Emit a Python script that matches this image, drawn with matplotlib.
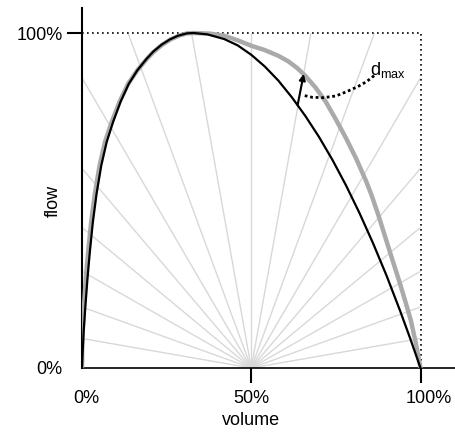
import numpy as np
import matplotlib
matplotlib.use("Agg")
import matplotlib.pyplot as plt
import matplotlib.transforms as mtransforms

plt.rcParams['font.family'] = ['Liberation Sans', 'DejaVu Sans']
plt.rcParams['mathtext.fontset'] = 'custom'
plt.rcParams['mathtext.rm'] = 'Liberation Sans'
plt.rcParams['mathtext.it'] = 'Liberation Sans'

# ---- data ----
# normal (predicted) flow-volume curve
normal_x = [0, 0.002, 0.005, 0.010, 0.016, 0.023, 0.032, 0.043, 0.057, 0.073, 0.092,
            0.114, 0.138, 0.163, 0.190, 0.210, 0.235, 0.260, 0.284, 0.310, 0.330,
            0.370, 0.420, 0.460, 0.500, 0.540, 0.580, 0.620, 0.660, 0.700, 0.740,
            0.780, 0.820, 0.860, 0.900, 0.940, 0.970, 1.000]
normal_y = [0, 0.050, 0.110, 0.185, 0.265, 0.345, 0.435, 0.520, 0.605, 0.675, 0.735,
            0.795, 0.848, 0.888, 0.922, 0.944, 0.965, 0.981, 0.992, 0.999, 1.000,
            0.996, 0.982, 0.963, 0.935, 0.900, 0.858, 0.808, 0.752, 0.690, 0.621,
            0.545, 0.462, 0.372, 0.275, 0.170, 0.087, 0]

# measured flow-volume curve
meas_x = [0, 0.0005, 0.002, 0.006, 0.011, 0.018, 0.027, 0.038, 0.052, 0.068, 0.088,
          0.111, 0.136, 0.163, 0.191, 0.212, 0.237, 0.262, 0.286, 0.311, 0.330,
          0.380, 0.420, 0.460, 0.500, 0.540, 0.580, 0.610, 0.635, 0.660, 0.690,
          0.720, 0.750, 0.780, 0.810, 0.840, 0.855, 0.875, 0.894, 0.917, 0.940,
          0.956, 0.972, 0.986, 1.000]
meas_y = [0, 0.050, 0.110, 0.185, 0.265, 0.345, 0.435, 0.520, 0.605, 0.675, 0.735,
          0.795, 0.848, 0.888, 0.922, 0.944, 0.965, 0.981, 0.992, 0.999, 1.000,
          0.998, 0.992, 0.978, 0.962, 0.949, 0.932, 0.915, 0.896, 0.872, 0.837,
          0.795, 0.742, 0.686, 0.625, 0.556, 0.517, 0.458, 0.397, 0.323, 0.250,
          0.196, 0.140, 0.075, 0]

ray_angles = [10, 20, 30, 40, 50, 60, 70, 80, 90, 100, 110, 120, 130, 140, 150, 160, 170]
ray_origin = (0.5, 0.0)

dmax_from = (0.637, 0.785)
dmax_to = (0.655, 0.878)
conn_x = [0.658, 0.68, 0.713, 0.75, 0.782, 0.815, 0.841, 0.866]
conn_y = [0.813, 0.808, 0.807, 0.812, 0.825, 0.840, 0.855, 0.875]

xtick_vals = [0, 0.5, 1.0]
xtick_labels = ['0%', '50%', '100%']
ytick_vals = [0, 1.0]
ytick_labels = ['0%', '100%']

# ---- figure ----
fig = plt.figure(figsize=(4.55, 4.32), dpi=100)
ax = fig.add_axes([82/455, 64/432, 373/455, 360/432])
ax.set_xlim(0, 373/338.5)
ax.set_ylim(0, 360/335)

# rays from the 50% point, clipped to the unit box
ox, oy = ray_origin
for a in ray_angles:
    th = np.deg2rad(a)
    c, s = np.cos(th), np.sin(th)
    ts = [1.0 / s]
    if c > 1e-9:
        ts.append((1 - ox) / c)
    elif c < -1e-9:
        ts.append((0 - ox) / c)
    t = min(ts)
    ax.plot([ox, ox + t*c], [oy, oy + t*s], color='#d8d8d8', lw=1.0, zorder=1,
            solid_capstyle='butt')

# dotted box
ax.plot([0, 1, 1], [1, 1, 0], color='black', ls=(0, (1, 2)), lw=1.2, zorder=2)

# curves
ax.plot(meas_x, meas_y, color='#aaaaaa', lw=3.2, zorder=3, solid_joinstyle='round',
        solid_capstyle='round')
ax.plot(normal_x, normal_y, color='black', lw=1.6, zorder=4, solid_joinstyle='round')

# d_max arrow and label
ax.annotate('', xy=dmax_to, xytext=dmax_from,
            arrowprops=dict(arrowstyle='-|>', color='black', lw=1.5,
                            mutation_scale=9, shrinkA=0, shrinkB=0), zorder=5)
ax.plot(conn_x, conn_y, color='black', ls=(0, (1, 1)), lw=2.0, zorder=5)
ax.text(0.85, 0.875, r'd$_{\mathrm{max}}$', fontsize=13, ha='left', va='baseline')

# spines
for side in ['top', 'right']:
    ax.spines[side].set_visible(False)
ax.spines['left'].set_linewidth(1.5)
ax.spines['bottom'].set_linewidth(1.2)

ax.set_xticks(xtick_vals)
ax.set_xticklabels(xtick_labels)
ax.set_yticks(ytick_vals)
ax.set_yticklabels(ytick_labels)
ax.tick_params(direction='out', length=11, width=1.5, labelsize=13, pad=5)
ax.tick_params(axis='y', pad=3)
ax.xaxis.get_major_ticks()[0].tick1line.set_visible(False)
ax.yaxis.get_major_ticks()[0].tick1line.set_visible(False)

# small offsets of individual x tick labels
xl = ax.get_xticklabels()
xl[0].set_transform(xl[0].get_transform() + mtransforms.ScaledTranslation(4/100, 0, fig.dpi_scale_trans))
xl[2].set_transform(xl[2].get_transform() + mtransforms.ScaledTranslation(8/100, 0, fig.dpi_scale_trans))

# axis labels
tr_x = mtransforms.blended_transform_factory(ax.transData, ax.transAxes)
tr_y = mtransforms.blended_transform_factory(ax.transAxes, ax.transData)
ax.text(0.5, (368 - 425) / 360, 'volume', transform=tr_x, ha='center', va='baseline',
        fontsize=13)
ax.text((53 - 82) / 373, 0.5, 'flow', transform=tr_y, ha='center', va='center',
        rotation=90, fontsize=13)

fig.savefig('out.png', dpi=100)
